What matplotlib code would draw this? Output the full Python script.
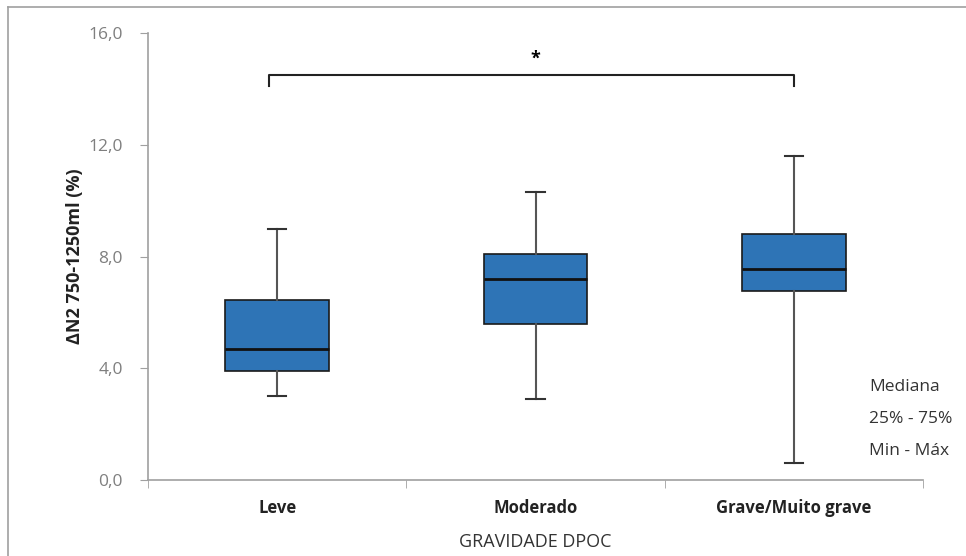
import matplotlib.pyplot as plt
from matplotlib.lines import Line2D

# Dados
categorias = ["Leve", "Moderado", "Grave/Muito grave"]
minimo = [3.0, 2.9, 0.6]
q1 = [3.9, 5.6, 6.75]
mediana = [4.7, 7.2, 7.55]
q3 = [6.45, 8.1, 8.8]
maximo = [9.0, 10.3, 11.6]

yticks = [0, 4, 8, 12, 16]
ytick_labels = ["0,0", "4,0", "8,0", "12,0", "16,0"]

plt.rcParams["font.family"] = ["Open Sans", "DejaVu Sans"]

fig = plt.figure(figsize=(9.66, 5.56), dpi=100)
ax = fig.add_axes([0.1532, 0.1367, 0.8023, 0.8039])

stats = []
for i, nome in enumerate(categorias):
    stats.append({
        "label": nome,
        "whislo": minimo[i],
        "q1": q1[i],
        "med": mediana[i],
        "q3": q3[i],
        "whishi": maximo[i],
        "fliers": [],
    })

pos = [1, 2, 3]
ax.bxp(stats, positions=pos, widths=0.4, patch_artist=True, showfliers=False,
       boxprops=dict(facecolor="#2E74B6", edgecolor="#1a1a1a", linewidth=1.2),
       medianprops=dict(color="#111111", linewidth=2),
       whiskerprops=dict(color="#555555", linewidth=1.5),
       capprops=dict(color="#333333", linewidth=1.5),
       capwidths=0.07)

ax.set_xlim(0.5, 3.5)
ax.set_ylim(0, 16)

ax.set_yticks(yticks)
ax.set_yticklabels(ytick_labels, color="#7f7f7f", fontsize=12.5)

ax.set_xticks(pos)
ax.set_xticklabels(categorias, fontsize=12, fontweight="bold", color="#222222")
ax.tick_params(axis="x", length=0, pad=14)
ax.set_xticks([0.5, 1.5, 2.5, 3.5], minor=True)
ax.tick_params(axis="x", which="minor", length=6, color="#a0a0a0")
ax.tick_params(axis="y", length=6, color="#a0a0a0", pad=12)

for s in ["top", "right"]:
    ax.spines[s].set_visible(False)
for s in ["left", "bottom"]:
    ax.spines[s].set_color("#a0a0a0")
    ax.spines[s].set_linewidth(1.2)

ax.set_ylabel("ΔN2 750-1250ml (%)", fontsize=13, fontweight="bold",
              color="#222222")
ax.yaxis.set_label_coords(-0.082, 0.5)
ax.set_xlabel("GRAVIDADE DPOC", fontsize=13, color="#333333", labelpad=11)

# Barra de significância
ax.plot([0.97, 0.97, 3, 3], [14.1, 14.5, 14.5, 14.1], color="#222222", lw=1.5)
ax.text(2, 14.75, "*", ha="center", va="bottom", fontsize=13, fontweight="bold")

# Legenda em texto
for k, t in enumerate(["Mediana", "25% - 75%", "Min - Máx"]):
    fig.text(0.8995, 0.304 - k * 0.0575, t, fontsize=12.5, color="#333333",
             va="center", ha="left")

# Moldura externa
fig.add_artist(Line2D([0.0083, 0.0083], [0.0, 0.987], color="#a0a0a0", lw=1.2))
fig.add_artist(Line2D([0.0083, 1.0], [0.987, 0.987], color="#a0a0a0", lw=1.2))

fig.savefig("out.png", dpi=100)
